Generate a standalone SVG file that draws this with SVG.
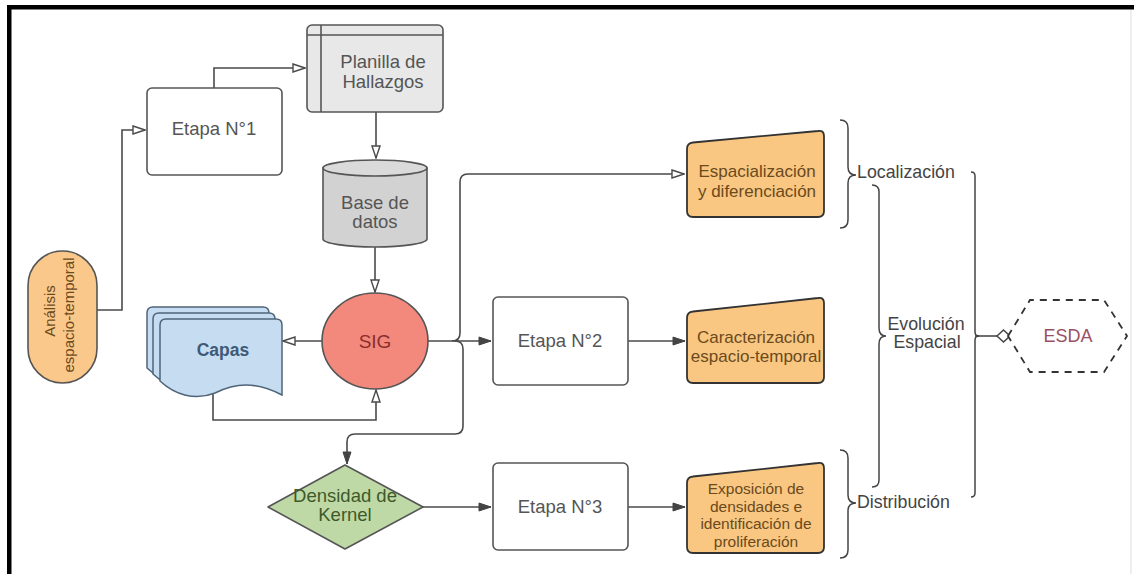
<svg xmlns="http://www.w3.org/2000/svg" width="1134" height="574" viewBox="0 0 1134 574">
<defs>
<style>
text{font-family:"Liberation Sans",Arial,sans-serif;}
.ln{fill:none;stroke:#4a4a4a;stroke-width:1.6;}
.box{fill:#fff;stroke:#555;stroke-width:1.6;}
.org{fill:#F9C782;stroke:#333;stroke-width:1.8;}
.t{font-size:18.5px;fill:#555;text-anchor:middle;}
.ot{font-size:17px;fill:#6b4a1c;text-anchor:middle;}
.ot2{font-size:15.5px;fill:#6b4a1c;text-anchor:middle;}
.br{fill:none;stroke:#444;stroke-width:1.5;}
.lb{font-size:17.8px;fill:#444;}
</style>
<marker id="hol" viewBox="0 0 14 10" refX="13" refY="5" markerWidth="14" markerHeight="10" orient="auto" markerUnits="userSpaceOnUse"><path d="M1,1 L13,5 L1,9 Z" fill="#fff" stroke="#4a4a4a" stroke-width="1.4"/></marker>
<marker id="sol" viewBox="0 0 14 10" refX="13" refY="5" markerWidth="14" markerHeight="10" orient="auto" markerUnits="userSpaceOnUse"><path d="M1,1 L13,5 L1,9 Z" fill="#444" stroke="#444" stroke-width="1"/></marker>
</defs>
<rect width="1134" height="574" fill="#fff"/>
<rect x="7" y="5" width="1127" height="4.5" fill="#000"/>
<rect x="7" y="5" width="4.5" height="569" fill="#000"/>
<line x1="1131" y1="10" x2="1131" y2="574" stroke="#ddd" stroke-width="1"/>

<g id="connectors">
<path class="ln" d="M97,310 H122 V130 H145" marker-end="url(#hol)"/>
<path class="ln" d="M214,88 V68 H305" marker-end="url(#hol)"/>
<path class="ln" d="M376,112 V158" marker-end="url(#hol)"/>
<path class="ln" d="M375,247 V292" marker-end="url(#hol)"/>
<path class="ln" d="M322,341 H283" marker-end="url(#hol)"/>
<path class="ln" d="M213,390 V420 H376 V390" marker-end="url(#hol)"/>
<path class="ln" d="M428,341 H491" marker-end="url(#sol)"/>
<path class="ln" d="M452,341 Q460,341 460,333 V182 Q460,174 468,174 H684" marker-end="url(#hol)"/>
<path class="ln" d="M455,341 Q463,341 463,349 V426 Q463,434 455,434 H355 Q347,434 347,442 V464" marker-end="url(#sol)"/>
<path class="ln" d="M628,341 H685" marker-end="url(#sol)"/>
<path class="ln" d="M423,507 H491" marker-end="url(#sol)"/>
<path class="ln" d="M628,507 H685" marker-end="url(#sol)"/>
<path class="ln" d="M975,336 H997"/>
<path d="M997,336 L1003.5,330 L1010,336 L1003.5,342 Z" fill="#fff" stroke="#444" stroke-width="1.5"/>
</g>

<g id="analisis">
<rect x="28" y="251" width="69" height="132" rx="34.5" fill="#FAC88A" stroke="#555" stroke-width="1.6"/>
<text transform="translate(55,311) rotate(-90)" font-size="15" fill="#6b4a1c" text-anchor="middle">Análisis</text>
<text transform="translate(74,315) rotate(-90)" font-size="15" fill="#6b4a1c" text-anchor="middle">espacio-temporal</text>
</g>

<g id="etapa1">
<rect class="box" x="147" y="88" width="135" height="87" rx="5"/>
<text class="t" x="214" y="135">Etapa N°1</text>
</g>

<g id="planilla">
<rect x="307" y="25" width="136" height="87" rx="5" fill="#E8E8E8" stroke="#555" stroke-width="1.6"/>
<line x1="321" y1="25" x2="321" y2="112" stroke="#555" stroke-width="1.6"/>
<line x1="307" y1="35" x2="443" y2="35" stroke="#555" stroke-width="1.4"/>
<text class="t" x="383" y="68">Planilla de</text>
<text class="t" x="383" y="88">Hallazgos</text>
</g>

<g id="basedatos">
<path d="M323,168 V239 A52,8 0 0 0 427,239 V168 Z" fill="#D2D2D2" stroke="#555" stroke-width="1.6"/>
<ellipse cx="375" cy="168" rx="52" ry="8" fill="#DADADA" stroke="#555" stroke-width="1.6"/>
<text class="t" x="375" y="209">Base de</text>
<text class="t" x="375" y="228">datos</text>
</g>

<g id="sig">
<ellipse cx="375" cy="341" rx="53" ry="48" fill="#F3897C" stroke="#555" stroke-width="1.6"/>
<text x="375" y="348" font-size="19" fill="#8a2e2e" text-anchor="middle">SIG</text>
</g>

<g id="capas" fill="#C6DDF1" stroke="#4f6478" stroke-width="1.5">
<path d="M147,313 Q147,307 153,307 H263 Q269,307 269,313 V382 C242,368 222,370 202,380 C182,388 162,382 147,368 Z"/>
<path d="M153,319 Q153,313 159,313 H269 Q275,313 275,319 V388 C248,374 228,376 208,386 C188,394 168,388 153,374 Z"/>
<path d="M160,325 Q160,319 166,319 H276 Q282,319 282,325 V395 C255,381 235,383 215,393 C195,401 175,395 160,381 Z"/>
<text x="223" y="356" font-size="17.5" font-weight="bold" fill="#3d5a78" stroke="none" text-anchor="middle">Capas</text>
</g>

<g id="etapa2">
<rect class="box" x="493" y="297" width="135" height="88" rx="5"/>
<text class="t" x="560" y="347">Etapa N°2</text>
</g>

<g id="kernel">
<path d="M268,507 L345,465 L423,507 L345,549 Z" fill="#BFD9A6" stroke="#555" stroke-width="1.6" stroke-linejoin="round"/>
<text x="345" y="502" font-size="18.5" fill="#3e5a2a" text-anchor="middle">Densidad de</text>
<text x="345" y="521" font-size="18.5" fill="#3e5a2a" text-anchor="middle">Kernel</text>
</g>

<g id="etapa3">
<rect class="box" x="493" y="463" width="135" height="87" rx="5"/>
<text class="t" x="560" y="513">Etapa N°3</text>
</g>

<g id="espacializacion">
<path class="org" d="M687,149 Q687,143 693,142.5 L818,131 Q824,130 824,136 V211 Q824,217 818,217 H693 Q687,217 687,211 Z"/>
<text class="ot" x="757" y="177">Espacialización</text>
<text class="ot" x="757" y="197">y diferenciación</text>
</g>

<g id="caracterizacion">
<path class="org" d="M687,318 Q687,312 693,311.5 L818,298 Q824,297 824,303 V377 Q824,383 818,383 H693 Q687,383 687,377 Z"/>
<text class="ot" x="756" y="343">Caracterización</text>
<text class="ot" x="756" y="362">espacio-temporal</text>
</g>

<g id="exposicion">
<path class="org" d="M687,483 Q687,477 693,476.5 L818,463 Q824,462 824,468 V547 Q824,553 818,553 H693 Q687,553 687,547 Z"/>
<text class="ot2" x="756" y="494">Exposición de</text>
<text class="ot2" x="756" y="511.5">densidades e</text>
<text class="ot2" x="756" y="529">identificación de</text>
<text class="ot2" x="756" y="546.5">proliferación</text>
</g>

<g id="localizacion">
<path class="br" d="M840,120 Q848,120 848,128 V167 Q848,175 856,175 Q848,175 848,183 V220 Q848,228 840,228"/>
<text class="lb" x="857" y="178">Localización</text>
</g>

<g id="evolucion">
<path class="br" d="M872,185 Q879,185 879,192 V328 Q879,336 886,336 Q879,336 879,344 V480 Q879,487 872,487"/>
<text class="lb" x="926" y="330" text-anchor="middle">Evolución</text>
<text class="lb" x="927" y="348" text-anchor="middle">Espacial</text>
</g>

<g id="distribucion">
<path class="br" d="M840,450 Q848,450 848,458 V495 Q848,503 856,503 Q848,503 848,511 V550 Q848,558 840,558"/>
<text class="lb" x="857" y="508">Distribución</text>
</g>

<g id="brace-esda">
<path class="br" d="M971,172 Q975,172 975,176 V332 Q975,336 979,336 Q975,336 975,340 V493 Q975,497 971,497"/>
</g>

<g id="esda">
<path d="M1008,336 L1030,300 L1104,300 L1127,336 L1104,372 L1030,372 Z" fill="#fff" stroke="#333" stroke-width="1.8" stroke-dasharray="7,6"/>
<text x="1068" y="342" font-size="18" fill="#9a5064" text-anchor="middle">ESDA</text>
</g>
</svg>
